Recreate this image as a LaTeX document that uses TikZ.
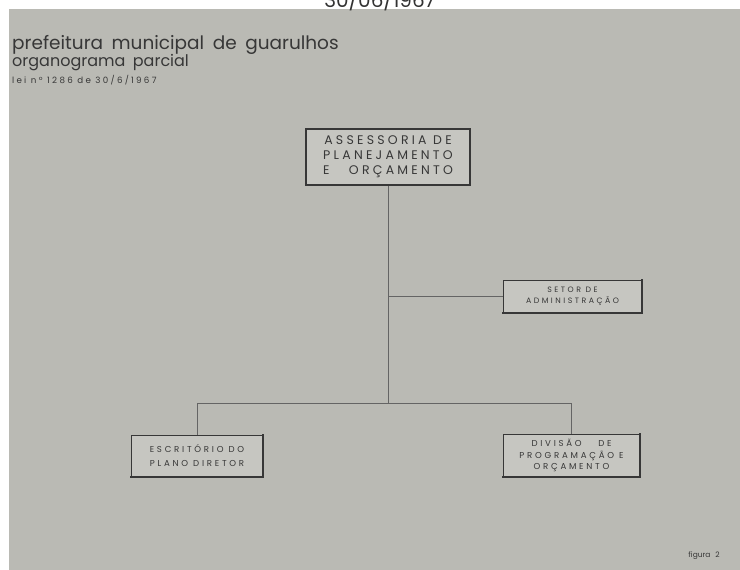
\documentclass[tikz,border=0pt]{standalone}
\usepackage{fontspec}
\setmainfont{Poppins}
\newfontfamily\capsfont[LetterSpace=26]{Poppins}
\newfontfamily\widefont[LetterSpace=32]{Poppins}
\usetikzlibrary{calc}
\definecolor{photo}{RGB}{186,186,180}
\definecolor{card}{RGB}{198,198,193}
\definecolor{ink}{RGB}{55,55,55}
\definecolor{wire}{RGB}{100,100,100}
\tikzset{
  unit/.style={draw=ink, fill=card, line width=0.7pt, align=center, text=ink, inner sep=0pt},
  heavy/.style={draw=ink, line width=2.2pt, line cap=rect},
  wire/.style={draw=wire, line width=0.8pt},
}

\begin{document}
\begin{tikzpicture}[x=1pt,y=-1pt]
	%%%%% START %%%%%
	
	\useasboundingbox (0,0) rectangle (740,570);
	\clip (0,0) rectangle (740,570);
	\fill[white] (0,0) rectangle (740,570);
	\fill[photo] (9,9) rectangle (740,570);
	
	\node[anchor=base, inner sep=0pt, text=black!80, font=\fontsize{20}{24}\selectfont] (stamp) at (380,7) {30/06/1967};
	
	\node[anchor=base west, inner sep=0pt, text=ink, font={\fontsize{18.5}{21}\selectfont\spaceskip=8.5pt\relax}] (town) at (12,49) {prefeitura municipal de guarulhos};
	\node[anchor=base west, inner sep=0pt, text=ink, font={\fontsize{16}{18}\selectfont\spaceskip=7.5pt\relax}] (chart) at (12,66) {organograma parcial};
	\node[anchor=base west, inner sep=0pt, text=ink, font=\capsfont\fontsize{8.7}{9}\selectfont] (law) at (12,83) {lei nº 1286 de 30/6/1967};
	
	\node[unit, line width=2.2pt, minimum width=164pt, minimum height=56pt, font=\capsfont\fontsize{12.5}{15}\selectfont] (apo) at (388,157)
		{ASSESSORIA DE\\PLANEJAMENTO\\\makebox[130pt][s]{E ORÇAMENTO}};
	
	\node[unit, minimum width=139pt, minimum height=33pt, font=\widefont\fontsize{7.8}{11}\selectfont] (set) at (572.5,296.5)
		{SETOR DE\\ADMINISTRAÇÃO};
	\draw[heavy] (set.north east) -- (set.south east) -- (set.south west);
	
	\node[unit, minimum width=132pt, minimum height=42pt, font=\widefont\fontsize{8.6}{14}\selectfont] (esc) at (197,456)
		{ESCRITÓRIO DO\\PLANO DIRETOR};
	\draw[heavy] (esc.north east) -- (esc.south east) -- (esc.south west);
	
	\node[unit, minimum width=137pt, minimum height=43pt, font=\widefont\fontsize{8.6}{11.5}\selectfont] (div) at (571.5,455.5)
		{\makebox[80pt][s]{DIVISÃO DE}\\PROGRAMAÇÃO E\\ORÇAMENTO};
	\draw[heavy] (div.north east) -- (div.south east) -- (div.south west);
	
	\coordinate (fork) at ($(apo.south)+(0,217)$);
	\draw[wire] (apo.south) -- (fork);
	\draw[wire] (apo.south |- set.west) -- (set.west);
	\draw[wire] (esc.north) |- (fork) -| (div.north);
	
	\node[anchor=base east, inner sep=0pt, text=ink, font=\fontsize{7.5}{8}\selectfont] (fig) at (720,557) {figura\hspace{5pt}2};
	
	%%%%% END %%%%%
\end{tikzpicture}
\end{document}
